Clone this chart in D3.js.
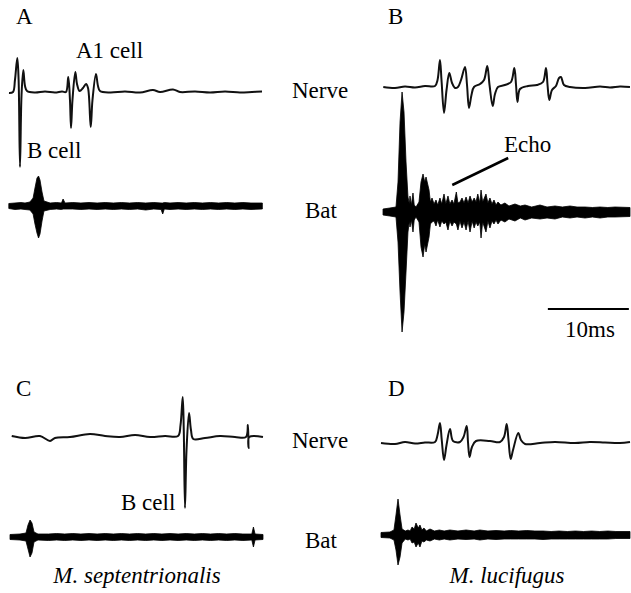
<!DOCTYPE html>
<html>
<head>
<meta charset="utf-8">
<script src="https://cdn.jsdelivr.net/npm/d3@7/dist/d3.min.js"></script>
<style>
  body { margin: 0; background: #fff; }
</style>
</head>
<body>
<div id="fig"></div>
<script>
// 1: DATA (time in ms, amplitude in trace units, + is up)
// nerve traces: [ms, amplitude]
const nerveA = [[0.12,-1],[0.62,0],[0.86,12],[1.15,34],[1.31,12],[1.48,-75],[1.67,-3],[1.89,22],[2.1,6],[2.35,1],
  [3.33,-0.5],[4.57,0.5],[5.8,-0.5],[6.67,0.5],[7.16,0],[7.44,15],[7.65,-8],[7.78,-36],[7.96,-8],[8.31,20],[8.52,8],
  [8.83,1],[9.26,4],[9.63,8],[9.88,4],[10.21,-35],[10.43,-8],[10.86,18],[11.11,6],[11.36,1],
  [12.6,-0.5],[14.44,0.5],[16.3,-0.5],[17.9,2],[18.77,0],[20.37,2.5],[21.23,0],[23.1,0.5],[24.94,-0.5],
  [26.8,0.5],[28.64,-0.5],[30.12,0],[31.36,0.5]];

const nerveB = [[0.28,0],[1.73,-1],[2.96,0.5],[4.2,-0.5],[5.43,1],[6.67,1],[6.98,7],[7.28,27],[7.47,7],[7.78,-26],
  [8.09,-3],[8.43,14],[8.77,4],[9.14,-1],[9.5,0],[9.88,7],[10.37,20],[10.62,2],[10.86,-21],[11.17,-8],[11.48,0],
  [12.22,3],[12.72,7],[13.12,21],[13.4,2],[13.79,-19],[14.07,-7],[14.44,0],[15.3,2],[16.05,5],[16.46,19],[16.67,2],
  [16.85,-15],[17.16,-2],[18.15,1],[19.26,2],[20.0,5],[20.37,19],[20.56,2],[20.78,-13],[21.11,-3],[21.6,1],
  [21.98,9],[22.22,10],[22.59,2],[23.33,0],[25.19,-1],[27.04,0.5],[28.27,-0.5],[29.5,0.5],[30.74,0]];

const nerveC = [[0.46,1],[2.1,-1],[3.95,1],[5.19,-4],[5.8,-1],[7.65,0],[10.12,3],[11.98,1],[13.83,0],[15.68,2],
  [17.53,0],[19.38,1],[20.99,1],[21.3,12],[21.57,40],[21.7,7],[21.85,-71],[22.04,-13],[22.35,24],[22.59,7],
  [22.88,-2],[24.32,-1],[26.17,1],[28.02,0],[29.38,0],[29.62,12],[29.7,-11],[29.78,0],[31.48,0]];

const nerveD = [[0,0],[1.73,-1],[2.96,1],[4.2,-0.5],[5.43,0.5],[6.67,1],[6.98,8],[7.28,20],[7.5,3],[7.78,-17],
  [8.09,-2],[8.52,14],[8.89,2],[9.75,1],[10.19,6],[10.58,17],[10.74,1],[10.93,-14],[11.23,-4],[11.73,2],
  [13.46,2],[14.69,1],[15.19,6],[15.52,19],[15.74,3],[16.01,-16],[16.3,-7],[16.95,10],[17.28,3],[17.78,-1],
  [19.63,0],[21.48,1],[23.95,0],[25.8,1],[27.65,0.5],[29.5,0],[30.74,1]];

// bat microphone traces: [ms, upper envelope, lower envelope]
const batA = [[0.1,2.5,2.5],[0.86,3,3.5],[1.6,3.5,3],[2.1,3,3.5],[2.7,4,4],[3.1,8,8],[3.33,18,18],[3.58,28,27],
  [3.77,30,32],[3.95,26,28],[4.2,14,15],[4.44,5,5],[5.2,3,3.5],[6,3.5,3],[6.6,3,3.5],[6.8,7,3],[7.04,3,3],
  [8,3.5,3],[9,3,3.5],[10,3.5,3],[11,3,3.5],[12,3.5,3],[13,3,3.5],[14,3.5,3],[15,3,3.5],[16,3.5,3],[17,3,4],
  [18,3.5,3],[18.9,3,3.5],[19.1,3,8],[19.3,3.5,3],[20,3,3.5],[21,3.5,3],[22,3,3.5],[23,3.5,3],[24,3,3.5],
  [25,3.5,3],[26,3,3.5],[27,3.5,3],[28,3,3.5],[29,3.5,3],[30,3,3.5],[31.4,3,3]];

const batB = [[0.25,3,3],[1.1,4,4],[1.85,5,5],[2.1,30,30],[2.35,90,80],[2.6,120,120],[2.84,100,100],[3.09,50,60],
  [3.33,15,20],[3.5,8,9],[3.58,16,15],[3.75,7,8],[3.95,19,20],[4.1,7,8],[4.32,5,5],[4.69,10,10],[4.94,30,35],
  [5.19,38,45],[5.4,30,32],[5.56,35,40],[5.93,22,25],[6.1,10,12],[6.3,14,10],[6.55,8,9],[6.79,12,14],
  [7.0,7,8],[7.28,14,15],[7.5,8,9],[7.78,18,12],[8.0,8,10],[8.27,16,18],[8.5,8,9],[8.77,12,14],[9.0,8,10],
  [9.3,20,12],[9.5,9,18],[9.75,10,9],[10.0,14,16],[10.25,9,10],[10.5,15,18],[10.75,9,9],[10.99,16,20],
  [11.25,10,9],[11.5,14,16],[11.73,10,10],[11.95,18,14],[12.2,9,10],[12.35,22,26],[12.55,10,10],
  [12.96,18,20],[13.2,9,9],[13.45,14,16],[13.7,8,9],[13.95,12,12],[14.2,7,8],[14.44,10,12],[14.8,7,8],
  [15.3,9,10],[15.8,6,7],[16.54,8,9],[17.2,6,6],[17.78,7,8],[18.6,5,6],[19.63,7,7],[20.5,5,6],[21.48,6,7],
  [22.4,5,5],[23.33,6,6],[24.2,5,5],[25.19,5,6],[26.1,4.5,5],[27.04,5,6],[28,4.5,5],[28.89,5,5],[30.74,4.5,4.5]];

const batC = [[0.25,2.5,2.5],[1.48,3,3],[2.22,4,4],[2.47,12,12],[2.72,17,20],[2.96,14,16],[3.21,5,5],[3.7,3,3],
  [5,3,3.5],[6,3.5,3],[7,3,3.5],[8,3.5,3],[9,3,3.5],[10,3.5,3],[11,3,3.5],[12,3.5,3],[13,3,3.5],[14,3.5,3],
  [15,3,3.5],[16,3.5,3],[17,3,3.5],[18,3.5,3],[19,3,3.5],[20,3.5,3],[21,3,3.5],[22,3.5,3],[23,3,3.5],
  [24,3.5,3],[25,3,3.5],[26,3.5,3],[27,3,3.5],[28,3.5,3],[29,3,3.5],[30.1,3,3],[30.3,10,10],[30.5,3,3],
  [31.48,2.5,2.5]];

const batD = [[0,2.5,2.5],[1.1,3,3],[1.6,5,5],[1.85,20,15],[2.1,36,30],[2.35,20,22],[2.6,6,8],[3.0,4,4],
  [3.33,5,5],[3.6,4,4],[3.83,8,8],[4.1,6,7],[4.32,12,12],[4.6,7,8],[4.81,10,12],[5.05,5,6],[5.3,7,7],
  [5.6,4,5],[6.05,6,6],[6.6,4,4],[7.2,5,5],[7.8,4,4],[8.5,5,5],[9.5,4,4],[10.5,5,4.5],[11.5,4,4],
  [12.2,5,5],[13.2,4,4],[14.2,4.5,4.5],[15.2,4,4],[16,4.5,4],[17,4,4],[18,4.5,4],[19,4,4],[20,4,4.5],
  [21,3.5,4],[22,4,4],[23,3.5,4],[24,4,4],[25,3.5,4],[26,4,4],[27,3.5,4],[28,4,4],[29,3.5,3.5],[30.74,3.5,3.5]];

const scaleBarMs = [20.6, 30.6];   // 10 ms scale bar, panel B time axis
const echoPointer = [[8.8, 27], [15.7, 54]]; // [ms, amplitude] on the B bat trace

// 2: LAYOUT
const W = 631, H = 593;
const pxPerMs = 8.1;
const FONT = "'Liberation Serif', 'Times New Roman', Times, serif";
const svg = d3.select("#fig").append("svg").attr("width", W).attr("height", H);

const xLeft = d3.scaleLinear().domain([0, 32]).range([8, 8 + 32 * pxPerMs]);
const xRight = d3.scaleLinear().domain([0, 32]).range([381, 381 + 32 * pxPerMs]);

const yAt = base => d3.scaleLinear().domain([-150, 150]).range([base + 150, base - 150]);

// 3: DRAW TRACES
function nerve(data, x, base) {
  const y = yAt(base);
  svg.append("path")
    .attr("fill", "none")
    .attr("stroke", "#111")
    .attr("stroke-width", 2)
    .attr("stroke-linejoin", "round")
    .attr("d", d3.line().x(d => x(d[0])).y(d => y(d[1])).curve(d3.curveCatmullRom.alpha(0.5))(data));
}

function bat(data, x, base) {
  const y = yAt(base);
  svg.append("path")
    .attr("fill", "#000")
    .attr("stroke", "#000")
    .attr("stroke-width", 0.8)
    .attr("d", d3.area().x(d => x(d[0])).y0(d => y(-d[2])).y1(d => y(d[1])).curve(d3.curveLinear)(data));
}

nerve(nerveA, xLeft, 92);
bat(batA, xLeft, 206);
nerve(nerveB, xRight, 87);
bat(batB, xRight, 212);
nerve(nerveC, xLeft, 437);
bat(batC, xLeft, 537);
nerve(nerveD, xRight, 443);
bat(batD, xRight, 535);

// echo pointer
const yB = yAt(212);
svg.append("line")
  .attr("x1", xRight(echoPointer[0][0])).attr("y1", yB(echoPointer[0][1]))
  .attr("x2", xRight(echoPointer[1][0])).attr("y2", yB(echoPointer[1][1]))
  .attr("stroke", "#000").attr("stroke-width", 2.5);

// scale bar
svg.append("line")
  .attr("x1", xRight(scaleBarMs[0])).attr("x2", xRight(scaleBarMs[1]))
  .attr("y1", 309).attr("y2", 309)
  .attr("stroke", "#000").attr("stroke-width", 2);

// 4: LABELS
const labels = [
  { t: "A", x: 16, y: 24 }, { t: "B", x: 388, y: 24 },
  { t: "C", x: 16, y: 396 }, { t: "D", x: 388, y: 396 },
  { t: "A1 cell", x: 76, y: 58 }, { t: "B cell", x: 27, y: 158 },
  { t: "Nerve", x: 292, y: 98 }, { t: "Bat", x: 305, y: 218 },
  { t: "Echo", x: 504, y: 152 },
  { t: "10ms", x: 565, y: 337 },
  { t: "Nerve", x: 292, y: 448 }, { t: "Bat", x: 305, y: 548 },
  { t: "B cell", x: 121, y: 510 }
];

svg.selectAll(".lbl")
  .data(labels)
  .enter()
  .append("text")
  .attr("class", "lbl")
  .attr("x", d => d.x)
  .attr("y", d => d.y)
  .style("font-family", FONT)
  .style("font-size", "23px")
  .text(d => d.t);

svg.append("text").attr("x", 137).attr("y", 583).attr("text-anchor", "middle")
  .style("font-family", FONT).style("font-size", "23px")
  .style("font-style", "italic").text("M. septentrionalis");
svg.append("text").attr("x", 507).attr("y", 583).attr("text-anchor", "middle")
  .style("font-family", FONT).style("font-size", "23px")
  .style("font-style", "italic").text("M. lucifugus");
</script>
</body>
</html>
